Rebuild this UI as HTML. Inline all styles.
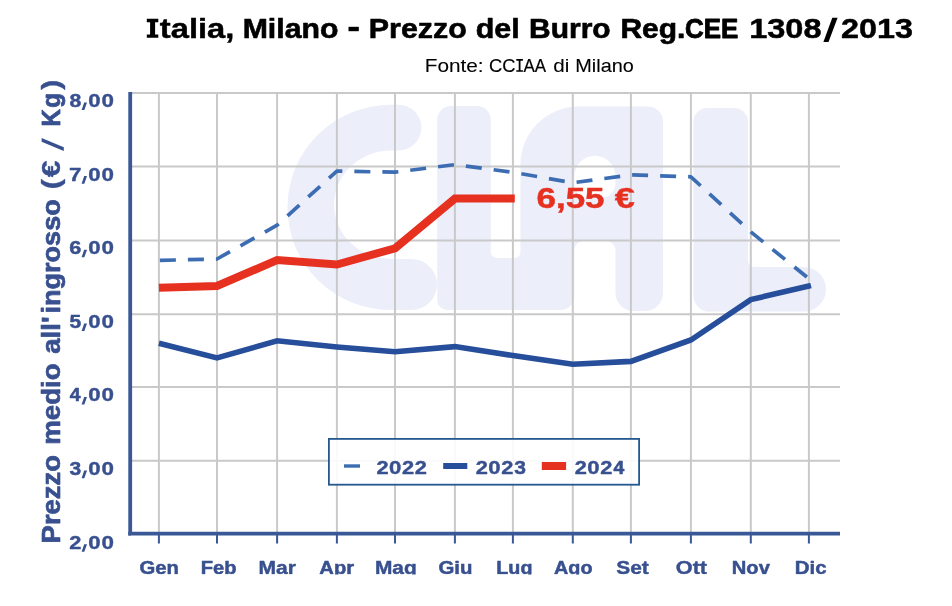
<!DOCTYPE html>
<html><head><meta charset="utf-8"><title>Prezzo del Burro</title>
<style>
html,body{margin:0;padding:0;background:#fff;}
body{width:952px;height:606px;overflow:hidden;font-family:"Liberation Sans",sans-serif;}
svg{display:block;will-change:transform}
text{font-family:"Liberation Sans",sans-serif;font-kerning:none;stroke-linejoin:round;}
.b{font-weight:bold}
</style></head><body>
<svg width="952" height="606" viewBox="0 0 952 606">
<defs><clipPath id="cx"><rect x="0" y="0" width="952" height="574.4"/></clipPath></defs>
<rect width="952" height="606" fill="#fff"/>
<g fill="#eceefa" stroke="none" fill-rule="evenodd">
<path d="M391,104.7 H398.5 A22.9,22.9 0 0 1 398.5,150.5 H391 A57,54.25 0 0 0 391,259 H411.5 A25.5,25.5 0 0 1 411.5,310 H391 A103.5,102.65 0 0 1 391,104.7 Z"/>
<path d="M437.2,120 a14,14 0 0 1 14,-14 H476.8 a14,14 0 0 1 14,14 V252 a6,6 0 0 0 6,6 H514.5 a6,6 0 0 0 6,-6 V164.5 a58,58 0 0 1 58,-58 H648 a15,15 0 0 1 15,15 V293 a18,18 0 0 1 -18,18 H633.5 a18,18 0 0 1 -18,-18 V250 a9,9 0 0 0 -9,-9 H583.3 a9,9 0 0 0 -9,9 V296 a14,14 0 0 1 -14,14 H447.2 a10,10 0 0 1 -10,-10 Z M574.3,176.3 a20.6,20.6 0 0 1 41.2,0 v6.9 a15,15 0 0 1 -15,15 h-11.2 a15,15 0 0 1 -15,-15 Z"/>
<path d="M693.4,122 a14,14 0 0 1 14,-14 H734 a14,14 0 0 1 14,14 V261 a6,6 0 0 0 6,6 H803.7 a22.3,22.3 0 0 1 0,44.6 H709.4 a16,16 0 0 1 -16,-16 Z"/>
</g>
<path d="M130,92.9 H840 M130,166.6 H840 M130,240.4 H840 M130,314.2 H840 M130,386.9 H840 M130,460.8 H840 M158.9,92 V533 M217.0,92 V533 M277.1,92 V533 M336.9,92 V533 M395.0,92 V533 M454.9,92 V533 M512.9,92 V533 M572.8,92 V533 M630.9,92 V533 M690.9,92 V533 M750.8,92 V533 M808.9,92 V533" stroke="#c9c9c9" stroke-width="2" fill="none"/>
<path d="M130.2,92 V533.6 H840" stroke="#3a5896" stroke-width="3.8" fill="none"/>
<path d="M128.3,533.6 H131" stroke="#3a5896" stroke-width="3.8"/>
<path d="M158.9,533.6 V543.6 M217.0,533.6 V543.6 M277.1,533.6 V543.6 M336.9,533.6 V543.6 M395.0,533.6 V543.6 M454.9,533.6 V543.6 M512.9,533.6 V543.6 M572.8,533.6 V543.6 M630.9,533.6 V543.6 M690.9,533.6 V543.6 M750.8,533.6 V543.6 M808.9,533.6 V543.6" stroke="#3a5896" stroke-width="2" fill="none"/>
<polyline points="158.9,260.4 217.0,259.0 277.1,225.2 336.9,171.1 395.0,172.2 454.9,164.6 512.9,172.3 572.8,182.8 630.9,174.9 690.9,176.8 750.8,231.9 808.9,278.6" fill="none" stroke="#3c6db3" stroke-width="3.7" stroke-dasharray="16,12.02" stroke-dashoffset="-1" stroke-linejoin="round"/>
<polyline points="158.9,343.3 217.0,357.9 277.1,340.8 336.9,347.0 395.0,351.8 454.9,346.6 512.9,355.5 572.8,364.2 630.9,361.4 690.9,340.0 750.8,299.6 808.9,286.1 811,285.6" fill="none" stroke="#264e9a" stroke-width="5.6" stroke-linejoin="miter"/>
<polyline points="158.9,287.8 217.0,286.0 277.1,260.1 336.9,264.5 395.0,248.3 454.9,198.6 512.9,198.6 514.8,198.6" fill="none" stroke="#e63020" stroke-width="8" stroke-linejoin="miter"/>
<text class="b" x="536.57" y="207.5" font-size="29.9" fill="#e63020" stroke="#e63020" stroke-width="0.49" textLength="67.96" lengthAdjust="spacingAndGlyphs">6,55</text>
<text class="b" x="614.81" y="207.5" font-size="29.9" fill="#e63020" stroke="#e63020" stroke-width="0.37" textLength="20.14" lengthAdjust="spacingAndGlyphs">€</text>
<rect x="328.9" y="438.9" width="310.2" height="45.8" fill="#fff" fill-opacity="0.9" stroke="#24588f" stroke-width="1.8"/>
<path d="M344,466 H360" stroke="#3c6db3" stroke-width="3.4"/>
<path d="M443.2,466 H467.3" stroke="#264e9a" stroke-width="6"/>
<path d="M541.8,466 H566.1" stroke="#e63020" stroke-width="8"/>
<text class="b" x="376.54" y="474" font-size="18" fill="#38508f" stroke="#38508f" stroke-width="0.39" textLength="12.14" lengthAdjust="spacingAndGlyphs">2</text>
<text class="b" x="389.14" y="474" font-size="18" fill="#38508f" stroke="#38508f" stroke-width="0.37" textLength="12.31" lengthAdjust="spacingAndGlyphs">0</text>
<text class="b" x="402.0" y="474" font-size="18" fill="#38508f" stroke="#38508f" stroke-width="0.39" textLength="12.14" lengthAdjust="spacingAndGlyphs">2</text>
<text class="b" x="414.73" y="474" font-size="18" fill="#38508f" stroke="#38508f" stroke-width="0.39" textLength="12.14" lengthAdjust="spacingAndGlyphs">2</text>
<text class="b" x="475.74" y="474" font-size="18" fill="#38508f" stroke="#38508f" stroke-width="0.39" textLength="12.14" lengthAdjust="spacingAndGlyphs">2</text>
<text class="b" x="488.34" y="474" font-size="18" fill="#38508f" stroke="#38508f" stroke-width="0.37" textLength="12.31" lengthAdjust="spacingAndGlyphs">0</text>
<text class="b" x="501.2" y="474" font-size="18" fill="#38508f" stroke="#38508f" stroke-width="0.39" textLength="12.14" lengthAdjust="spacingAndGlyphs">2</text>
<text class="b" x="514.23" y="474" font-size="18" fill="#38508f" stroke="#38508f" stroke-width="0.44" textLength="11.7" lengthAdjust="spacingAndGlyphs">3</text>
<text class="b" x="574.74" y="474" font-size="18" fill="#38508f" stroke="#38508f" stroke-width="0.39" textLength="12.14" lengthAdjust="spacingAndGlyphs">2</text>
<text class="b" x="587.34" y="474" font-size="18" fill="#38508f" stroke="#38508f" stroke-width="0.37" textLength="12.31" lengthAdjust="spacingAndGlyphs">0</text>
<text class="b" x="600.2" y="474" font-size="18" fill="#38508f" stroke="#38508f" stroke-width="0.39" textLength="12.14" lengthAdjust="spacingAndGlyphs">2</text>
<text class="b" x="613.47" y="474" font-size="18" fill="#38508f" stroke="#38508f" stroke-width="0.55" textLength="10.75" lengthAdjust="spacingAndGlyphs">4</text>
<text class="b" x="69.44" y="106.9" font-size="18" fill="#38508f" stroke="#38508f" stroke-width="0.43" textLength="11.8" lengthAdjust="spacingAndGlyphs">8</text>
<text class="b" x="88.31" y="106.9" font-size="18" fill="#38508f" stroke="#38508f" stroke-width="0.37" textLength="12.31" lengthAdjust="spacingAndGlyphs">0</text>
<text class="b" x="101.4" y="106.9" font-size="18" fill="#38508f" stroke="#38508f" stroke-width="0.36" textLength="12.44" lengthAdjust="spacingAndGlyphs">0</text>
<path d="M84.2,102.5 H87 L84.3,110.1 H81.6 Z" fill="#38508f"/>
<text class="b" x="69.11" y="180.5" font-size="18" fill="#38508f" stroke="#38508f" stroke-width="0.35" textLength="12.5" lengthAdjust="spacingAndGlyphs">7</text>
<text class="b" x="88.31" y="180.5" font-size="18" fill="#38508f" stroke="#38508f" stroke-width="0.37" textLength="12.31" lengthAdjust="spacingAndGlyphs">0</text>
<text class="b" x="101.4" y="180.5" font-size="18" fill="#38508f" stroke="#38508f" stroke-width="0.36" textLength="12.44" lengthAdjust="spacingAndGlyphs">0</text>
<path d="M84.2,176.1 H87 L84.3,183.7 H81.6 Z" fill="#38508f"/>
<text class="b" x="69.3" y="254.1" font-size="18" fill="#38508f" stroke="#38508f" stroke-width="0.4" textLength="12.08" lengthAdjust="spacingAndGlyphs">6</text>
<text class="b" x="88.31" y="254.1" font-size="18" fill="#38508f" stroke="#38508f" stroke-width="0.37" textLength="12.31" lengthAdjust="spacingAndGlyphs">0</text>
<text class="b" x="101.4" y="254.1" font-size="18" fill="#38508f" stroke="#38508f" stroke-width="0.36" textLength="12.44" lengthAdjust="spacingAndGlyphs">0</text>
<path d="M84.2,249.7 H87 L84.3,257.3 H81.6 Z" fill="#38508f"/>
<text class="b" x="69.47" y="327.8" font-size="18" fill="#38508f" stroke="#38508f" stroke-width="0.44" textLength="11.69" lengthAdjust="spacingAndGlyphs">5</text>
<text class="b" x="88.31" y="327.8" font-size="18" fill="#38508f" stroke="#38508f" stroke-width="0.37" textLength="12.31" lengthAdjust="spacingAndGlyphs">0</text>
<text class="b" x="101.4" y="327.8" font-size="18" fill="#38508f" stroke="#38508f" stroke-width="0.36" textLength="12.44" lengthAdjust="spacingAndGlyphs">0</text>
<path d="M84.2,323.4 H87 L84.3,331.0 H81.6 Z" fill="#38508f"/>
<text class="b" x="69.88" y="401.4" font-size="18" fill="#38508f" stroke="#38508f" stroke-width="0.55" textLength="10.75" lengthAdjust="spacingAndGlyphs">4</text>
<text class="b" x="88.31" y="401.4" font-size="18" fill="#38508f" stroke="#38508f" stroke-width="0.37" textLength="12.31" lengthAdjust="spacingAndGlyphs">0</text>
<text class="b" x="101.4" y="401.4" font-size="18" fill="#38508f" stroke="#38508f" stroke-width="0.36" textLength="12.44" lengthAdjust="spacingAndGlyphs">0</text>
<path d="M84.2,397.0 H87 L84.3,404.6 H81.6 Z" fill="#38508f"/>
<text class="b" x="69.64" y="475.0" font-size="18" fill="#38508f" stroke="#38508f" stroke-width="0.44" textLength="11.7" lengthAdjust="spacingAndGlyphs">3</text>
<text class="b" x="88.31" y="475.0" font-size="18" fill="#38508f" stroke="#38508f" stroke-width="0.37" textLength="12.31" lengthAdjust="spacingAndGlyphs">0</text>
<text class="b" x="101.4" y="475.0" font-size="18" fill="#38508f" stroke="#38508f" stroke-width="0.36" textLength="12.44" lengthAdjust="spacingAndGlyphs">0</text>
<path d="M84.2,470.6 H87 L84.3,478.2 H81.6 Z" fill="#38508f"/>
<text class="b" x="69.34" y="548.6" font-size="18" fill="#38508f" stroke="#38508f" stroke-width="0.39" textLength="12.14" lengthAdjust="spacingAndGlyphs">2</text>
<text class="b" x="88.31" y="548.6" font-size="18" fill="#38508f" stroke="#38508f" stroke-width="0.37" textLength="12.31" lengthAdjust="spacingAndGlyphs">0</text>
<text class="b" x="101.4" y="548.6" font-size="18" fill="#38508f" stroke="#38508f" stroke-width="0.36" textLength="12.44" lengthAdjust="spacingAndGlyphs">0</text>
<path d="M84.2,544.2 H87 L84.3,551.8 H81.6 Z" fill="#38508f"/>
<g clip-path="url(#cx)">
<text class="b" x="139.5" y="574" font-size="18" fill="#38508f" stroke="#38508f" stroke-width="0.47" textLength="39.42" lengthAdjust="spacingAndGlyphs">Gen</text>
<text class="b" x="200.69" y="574" font-size="18" fill="#38508f" stroke="#38508f" stroke-width="0.48" textLength="35.79" lengthAdjust="spacingAndGlyphs">Feb</text>
<text class="b" x="258.6" y="574" font-size="18" fill="#38508f" stroke="#38508f" stroke-width="0.42" textLength="37.41" lengthAdjust="spacingAndGlyphs">Mar</text>
<text class="b" x="319.34" y="574" font-size="18" fill="#38508f" stroke="#38508f" stroke-width="0.48" textLength="34.73" lengthAdjust="spacingAndGlyphs">Apr</text>
<text class="b" x="374.92" y="574" font-size="18" fill="#38508f" stroke="#38508f" stroke-width="0.43" textLength="41.76" lengthAdjust="spacingAndGlyphs">Mag</text>
<text class="b" x="438.49" y="574" font-size="18" fill="#38508f" stroke="#38508f" stroke-width="0.46" textLength="34.02" lengthAdjust="spacingAndGlyphs">Giu</text>
<text class="b" x="496.34" y="574" font-size="18" fill="#38508f" stroke="#38508f" stroke-width="0.51" textLength="36.13" lengthAdjust="spacingAndGlyphs">Lug</text>
<text class="b" x="553.96" y="574" font-size="18" fill="#38508f" stroke="#38508f" stroke-width="0.5" textLength="38.57" lengthAdjust="spacingAndGlyphs">Ago</text>
<text class="b" x="616.21" y="574" font-size="18" fill="#38508f" stroke="#38508f" stroke-width="0.42" textLength="32.54" lengthAdjust="spacingAndGlyphs">Set</text>
<text class="b" x="675.8" y="574" font-size="18" fill="#38508f" stroke="#38508f" stroke-width="0.37" textLength="31.28" lengthAdjust="spacingAndGlyphs">Ott</text>
<text class="b" x="731.79" y="574" font-size="18" fill="#38508f" stroke="#38508f" stroke-width="0.48" textLength="38.06" lengthAdjust="spacingAndGlyphs">Nov</text>
<text class="b" x="794.76" y="574" font-size="18" fill="#38508f" stroke="#38508f" stroke-width="0.45" textLength="31.82" lengthAdjust="spacingAndGlyphs">Dic</text>
</g>
<g transform="translate(60.3,542) rotate(-90)">
<text class="b" x="-1.41" y="0" font-size="25.4" fill="#38508f" stroke="#38508f" stroke-width="0.64" textLength="88.36" lengthAdjust="spacingAndGlyphs">Prezzo</text>
<text class="b" x="97.19" y="0" font-size="25.4" fill="#38508f" stroke="#38508f" stroke-width="0.62" textLength="81.48" lengthAdjust="spacingAndGlyphs">medio</text>
<text class="b" x="188.19" y="0" font-size="25.4" fill="#38508f" stroke="#38508f" stroke-width="0.6" textLength="37.45" lengthAdjust="spacingAndGlyphs">all&#39;</text>
<text class="b" x="228.45" y="0" font-size="25.4" fill="#38508f" stroke="#38508f" stroke-width="0.67" textLength="114.28" lengthAdjust="spacingAndGlyphs">ingrosso</text>
<text class="b" x="352.45" y="0" font-size="25.4" fill="#38508f" stroke="#38508f" stroke-width="0.28" textLength="10.64" lengthAdjust="spacingAndGlyphs">(</text>
<text class="b" x="364.67" y="0" font-size="25.4" fill="#38508f" stroke="#38508f" stroke-width="0.43" textLength="16.64" lengthAdjust="spacingAndGlyphs">€</text>
<text class="b" x="415.4" y="0" font-size="25.4" fill="#38508f" stroke="#38508f" stroke-width="0.81" textLength="17.32" lengthAdjust="spacingAndGlyphs">K</text>
<text class="b" x="434.2" y="0" font-size="25.4" fill="#38508f" stroke="#38508f" stroke-width="0.78" textLength="14.72" lengthAdjust="spacingAndGlyphs">g</text>
<text class="b" x="452.17" y="0" font-size="25.4" fill="#38508f" stroke="#38508f" stroke-width="0.4" textLength="9.91" lengthAdjust="spacingAndGlyphs">)</text>
</g>
<path d="M41.6,137.9 L63.8,147.3 V151.1 L41.6,141.8 Z" fill="#38508f"/>
<text class="b" x="159.82" y="37.8" font-size="27.2" fill="#000" stroke="#000" stroke-width="0.44" textLength="74.55" lengthAdjust="spacingAndGlyphs">talia,</text>
<text class="b" x="242.68" y="37.8" font-size="27.2" fill="#000" stroke="#000" stroke-width="0.61" textLength="95.69" lengthAdjust="spacingAndGlyphs">Milano</text>
<text class="b" x="368.87" y="37.8" font-size="27.2" fill="#000" stroke="#000" stroke-width="0.6" textLength="97.92" lengthAdjust="spacingAndGlyphs">Prezzo</text>
<text class="b" x="475.74" y="37.8" font-size="27.2" fill="#000" stroke="#000" stroke-width="0.58" textLength="44.03" lengthAdjust="spacingAndGlyphs">del</text>
<text class="b" x="529.11" y="37.8" font-size="27.2" fill="#000" stroke="#000" stroke-width="0.63" textLength="81.54" lengthAdjust="spacingAndGlyphs">Burro</text>
<text class="b" x="620.41" y="37.8" font-size="27.2" fill="#000" stroke="#000" stroke-width="0.62" textLength="64.95" lengthAdjust="spacingAndGlyphs">Reg.</text>
<text class="b" x="684.98" y="37.8" font-size="27.2" fill="#000" stroke="#000" stroke-width="0.89" textLength="53.29" lengthAdjust="spacingAndGlyphs">CEE</text>
<text class="b" x="749.18" y="37.8" font-size="27.2" fill="#000" stroke="#000" stroke-width="0.45" textLength="72.4" lengthAdjust="spacingAndGlyphs">1308</text>
<text class="b" x="840.91" y="37.8" font-size="27.2" fill="#000" stroke="#000" stroke-width="0.46" textLength="72.03" lengthAdjust="spacingAndGlyphs">2013</text>
<rect x="348.5" y="26.8" width="10.3" height="4.4" fill="#000"/>
<path d="M146.8,18.8 H158.3 V22.3 H155.1 V34.4 H158.3 V37.85 H146.8 V34.4 H150.1 V22.3 H146.8 Z" fill="#000"/>
<path d="M832.3,17.8 H837.6 L828.5,42 H823.4 Z" fill="#000"/>
<text x="424.73" y="72" font-size="19" fill="#000" stroke="#000" stroke-width="0.07" textLength="58.93" lengthAdjust="spacingAndGlyphs">Fonte:</text>
<text x="489.05" y="72" font-size="19" fill="#000" stroke="#000" stroke-width="0.17" textLength="26.46" lengthAdjust="spacingAndGlyphs">CC</text>
<text x="523.48" y="72" font-size="19" fill="#000" stroke="#000" stroke-width="0.23" textLength="22.64" lengthAdjust="spacingAndGlyphs">AA</text>
<text x="553.37" y="72" font-size="19" fill="#000" stroke="#000" stroke-width="0.07" textLength="16.09" lengthAdjust="spacingAndGlyphs">di</text>
<text x="575.32" y="72" font-size="19" fill="#000" stroke="#000" stroke-width="0.11" textLength="58.56" lengthAdjust="spacingAndGlyphs">Milano</text>
<path d="M516.3,59.1 H522.9 V60.7 H520.5 V70.2 H522.9 V71.8 H516.3 V70.2 H518.7 V60.7 H516.3 Z" fill="#000"/>
</svg></body></html>
